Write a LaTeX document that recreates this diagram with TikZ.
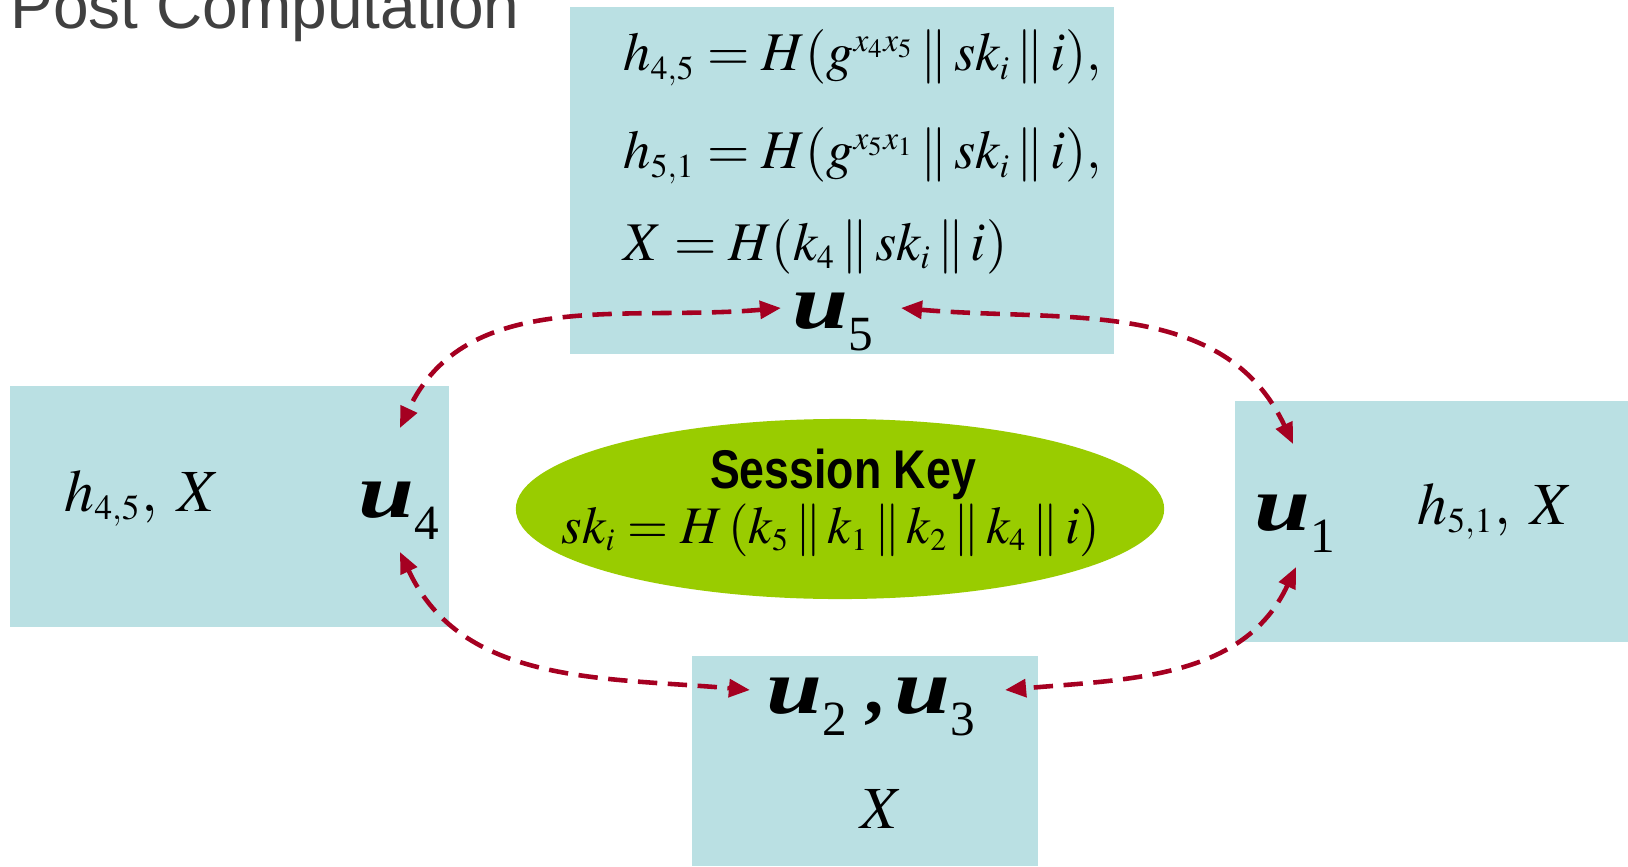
\documentclass[tikz,border=0pt]{standalone}
\usepackage{mathptmx}
\usepackage[no-math]{fontspec}
\setmainfont{Liberation Serif}
\newfontfamily\titlefont{Liberation Sans}
\newfontfamily\keyfont[FakeStretch=0.82]{Liberation Sans}
\newfontfamily\userfont[FakeStretch=1.3]{Liberation Serif}
\usetikzlibrary{arrows.meta,shapes.geometric}
\definecolor{boxblue}{RGB}{186,224,227}
\definecolor{keygreen}{RGB}{153,204,0}
\definecolor{linkred}{RGB}{165,0,33}
\definecolor{titlegray}{RGB}{64,64,64}
\DeclareMathSizes{17}{17}{10}{8}
\DeclareMathSizes{15.5}{15.5}{9.5}{7.5}
\DeclareMathSizes{15}{15}{9}{7}
\newcommand{\usr}[1]{{\userfont\bfseries\itshape u}\raisebox{-6.5pt}{\fontsize{14}{14}\selectfont #1}}

\begin{document}
\begin{tikzpicture}[x=0.01cm, y=0.01cm,
  panel/.style={fill=boxblue},
  user/.style={inner sep=0pt,anchor=base west,font=\fontsize{22}{22}\selectfont},
  term/.style={inner sep=0pt,anchor=base west,font=\fontsize{17}{20}\selectfont},
  formula/.style={term,font=\fontsize{15.5}{20}\selectfont},
  link/.style={linkred,line width=1.3pt,dash pattern=on 5.5pt off 3pt,{Triangle[length=6pt,width=5pt]}-{Triangle[length=6pt,width=5pt]}}]
\useasboundingbox (0,0) rectangle (1628,866);
% panels
\fill[panel] (570,512) rectangle (1114,859);
\fill[panel] (10,239) rectangle (449,480);
\fill[panel] (1235,224) rectangle (1628,465);
\fill[panel] (692,0) rectangle (1038,210);

\node[anchor=base west,inner sep=0pt,text=titlegray,font=\titlefont\fontsize{18.2}{20}\selectfont] (title) at (10,837) {Post Computation};

% top panel
\node[formula] (eqa) at (623,795) {$h_{4,5}=H(g^{x_4x_5}\,\|\,sk_i\,\|\,i),$};
\node[formula] (eqb) at (623,697) {$h_{5,1}=H(g^{x_5x_1}\,\|\,sk_i\,\|\,i),$};
\node[formula] (eqc) at (623,606) {$X=H(k_4\,\|\,sk_i\,\|\,i)$};

% session key
\node[ellipse,fill=keygreen,minimum width=6.48cm,minimum height=1.8cm,inner sep=0pt] (key) at (840,357) {};
\node[anchor=base,inner sep=0pt,font=\keyfont\bfseries\fontsize{15.5}{15}\selectfont] (keyname) at (843,378) {Session Key};
\node[anchor=base,inner sep=0pt,font=\fontsize{15}{15}\selectfont] (keyval) at (831,323)
  {$sk_i=H\,(k_5\,\|\,k_1\,\|\,k_2\,\|\,k_4\,\|\,i)$};

% users
\node[user] (u5) at (792,538) {\usr{5}};
\node[user] (u4) at (358,349) {\usr{4}};
\node[user] (u1) at (1254,336) {\usr{1}};
\node[user] (u23) at (766,153) {\usr{2}\hspace{5pt}\textbf{,}\hspace{3pt}\usr{3}};

\node[term] (lbl4) at (64,355) {$h_{4,5},\;X$};
\node[term] (lbl1) at (1417,342) {$h_{5,1},\;X$};
\node[term] (lbl23) at (860,38) {$X$};

% links
\draw[link] ([shift={(-11,20)}]u5.base west) to[out=185,in=65] ([shift={(42,89)}]u4.base west);
\draw[link] ([shift={(27,20)}]u5.base east) to[out=-5,in=115] ([shift={(39,86)}]u1.base west);
\draw[link] ([shift={(42,-35)}]u4.base west) to[out=-65,in=175] ([shift={(-16,23)}]u23.base west);
\draw[link] ([shift={(42,-37)}]u1.base west) to[out=245,in=5] ([shift={(29,23)}]u23.base east);
\end{tikzpicture}
\end{document}
